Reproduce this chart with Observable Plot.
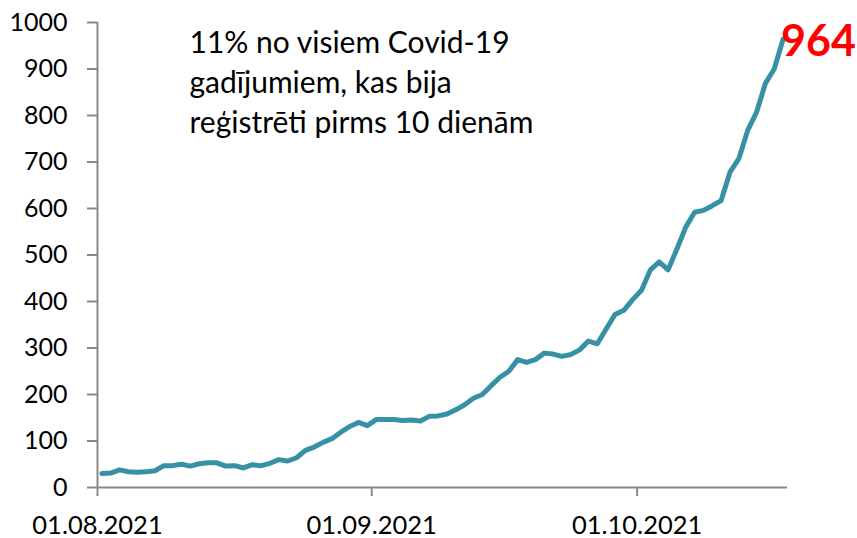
<!DOCTYPE html>
<html>
<head>
<meta charset="utf-8">
<script src="https://cdn.jsdelivr.net/npm/d3@7"></script>
<script src="https://cdn.jsdelivr.net/npm/@observablehq/plot@0.6"></script>
<style>
  html, body { margin: 0; padding: 0; background: #fff; }
</style>
</head>
<body>
<div id="chart"></div>
<script>
// ---- data ----
const startDate = "2021-08-01";
const endDate = "2021-10-18";
const values = [
  30,31,38,34,33,34,36,47,47,50,46,51,53,53,46,47,42,49,47,52,60,57,64,80,87,97,105,119,131,140,133,
  146,146,146,144,145,143,153,154,158,167,178,192,200,219,237,250,275,269,275,289,287,282,286,296,315,309,341,372,381,404,
  424,468,485,468,513,560,592,596,606,617,678,707,768,807,869,900,964
];
const xTickDates = ["2021-08-01", "2021-09-01", "2021-10-01"];
const yTicks = [0,100,200,300,400,500,600,700,800,900,1000];
const annotationLines = [
  "11% no visiem Covid-19",
  "gadījumiem, kas bija",
  "reģistrēti pirms 10 dienām"
];

// ---- build ----
const start = new Date(startDate + "T00:00:00Z");
const data = values.map((v, i) => ({
  date: d3.utcHour.offset(d3.utcDay.offset(start, i), 12),
  value: v
}));
const last = data[data.length - 1];
const xDomain = [start, new Date(endDate + "T00:00:00Z")];
const gray = "#8a8a8a";
const font = "Lato, 'Open Sans', sans-serif";

const chart = Plot.plot({
  width: 857,
  height: 538,
  marginLeft: 97,
  marginRight: 70,
  marginTop: 22,
  marginBottom: 51,
  style: { fontFamily: font, fontSize: "25px", color: "#000", background: "#fff" },
  x: { type: "utc", domain: xDomain },
  y: { domain: [0, 1000] },
  marks: [
    Plot.ruleY([0], { x1: xDomain[0], x2: xDomain[1], stroke: gray, strokeWidth: 2 }),
    Plot.ruleX([xDomain[0]], { y1: 0, y2: 1000, stroke: gray, strokeWidth: 2 }),
    Plot.axisY({
      ticks: yTicks, tickSize: 10, tickPadding: 20, stroke: gray, strokeWidth: 2,
      fill: "#000", fontSize: 25, label: null, tickFormat: d => String(d)
    }),
    Plot.axisX({
      ticks: xTickDates.map(d => new Date(d + "T00:00:00Z")),
      tickSize: 9, tickPadding: 19, stroke: gray, strokeWidth: 2,
      fill: "#000", fontSize: 25.5, label: null,
      tickFormat: d3.utcFormat("%d.%m.%Y")
    }),
    Plot.line(data, {
      x: "date", y: "value", stroke: "#3791a6", strokeWidth: 5,
      strokeLinejoin: "round", strokeLinecap: "round"
    }),
    Plot.text([last], {
      x: "date", y: "value", text: d => String(d.value),
      textAnchor: "start", lineAnchor: "middle", dx: -2, dy: 3,
      fill: "#ff0000", fontWeight: "bold", fontSize: 43
    }),
    Plot.text([annotationLines.join("\n")], {
      frameAnchor: "top-left", textAnchor: "start", lineAnchor: "top",
      dx: 92, dy: 2, fontSize: 30, lineHeight: 1.333, fill: "#000"
    })
  ]
});
document.getElementById("chart").appendChild(chart);
</script>
</body>
</html>
